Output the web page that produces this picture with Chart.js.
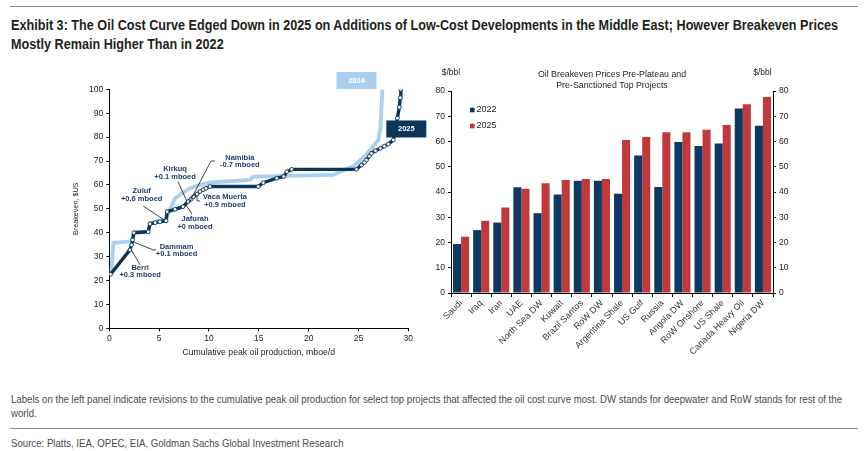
<!DOCTYPE html>
<html>
<head>
<meta charset="utf-8">
<title>Oil cost curve</title>
<script src="https://cdn.jsdelivr.net/npm/chart.js@4.4.0/dist/chart.umd.min.js"></script>
<style>
  body { margin: 0; background: #fff; width: 867px; height: 451px; position: relative; overflow: hidden; }
  .rule { position: absolute; height: 1px; background: #8a8a8a; }
  .txt { position: absolute; white-space: nowrap; transform-origin: 0 0; }
  .title { font: bold 14px "Liberation Sans Narrow", "Liberation Sans", Arial, sans-serif; line-height: 14px; color: #231f20; }
  .note { font: 10.5px "Liberation Sans Narrow", "Liberation Sans", Arial, sans-serif; line-height: 10.5px; color: #4a4a4a; }
  canvas { position: absolute; }
</style>
</head>
<body>
<div class="rule" style="left:10px;top:6px;width:848px;"></div>
<div class="txt title" id="t1" style="left:11px;top:18px;">Exhibit 3: The Oil Cost Curve Edged Down in 2025 on Additions of Low-Cost Developments in the Middle East; However Breakeven Prices</div>
<div class="txt title" id="t2" style="left:11px;top:36.5px;">Mostly Remain Higher Than in 2022</div>

<canvas id="curve" width="370" height="310" style="left:60px;top:60px;"></canvas>
<canvas id="bars" width="420" height="330" style="left:430px;top:60px;"></canvas>

<div class="txt note" id="n1" style="left:11px;top:394.4px;">Labels on the left panel indicate revisions to the cumulative peak oil production for select top projects that affected the oil cost curve most. DW stands for deepwater and RoW stands for rest of the</div>
<div class="txt note" id="n2" style="left:11px;top:407.8px;">world.</div>
<div class="rule" style="left:10px;top:428px;width:848px;"></div>
<div class="txt note" id="n3" style="left:11px;top:437.8px;">Source: Platts, IEA, OPEC, EIA, Goldman Sachs Global Investment Research</div>

<script>
// ---- left panel: cost curve (cumulative mboe/d vs breakeven $)
const curveX2024 = [0.2, 0.4, 2.25, 2.47, 3.9, 4.1, 5.7, 6.05, 6.6, 7.3, 8.1, 9.1, 10.1, 14.1, 14.45, 22.5, 22.8, 24.5, 25.8, 27.0, 27.2, 27.4];
const curveY2024 = [23.0, 35.8, 36.4, 40.0, 40.4, 44.0, 45.6, 49.5, 54.4, 56.5, 58.6, 60.0, 61.0, 62.1, 63.5, 64.2, 64.9, 67.8, 72.7, 78.8, 83.7, 100];

const curveX2025 = [0.13, 2.07, 2.24, 2.34, 2.47, 3.9, 4.08, 4.6, 5.08, 5.7, 5.8, 6.6, 7.4, 7.9, 8.2, 8.43, 8.8, 9.1, 9.4, 9.7, 10.1, 14.95, 15.45, 16.8, 17.5, 17.8, 18.3, 24.8, 25.3, 25.6, 25.8, 26.1, 26.3, 26.7, 27.2, 27.6, 28.0, 28.5, 28.9, 29.1, 29.2, 29.25];
const curveY2025 = [22.6, 32.8, 34.9, 37.0, 40.0, 40.4, 43.7, 44.2, 44.6, 45.0, 48.8, 49.8, 50.9, 53.0, 54.0, 55.0, 56.2, 57.2, 58.0, 58.6, 59.3, 59.3, 60.9, 62.8, 63.5, 65.5, 66.5, 66.5, 68.3, 69.4, 70.4, 72.0, 73.2, 74.3, 75.3, 76.2, 77.1, 78.8, 87.9, 92.5, 96.5, 100];

// project revision notes (anchor = centre of first text line, data units)
const noteNames     = ['Namibia', 'Kirkuq', 'Zuluf', 'Vaca Muerta', 'Jafurah', 'Dammam', 'Berri'];
const noteRevisions = ['-0.7 mboed', '+0.1 mboed', '+0.6 mboed', '+0.9 mboed', '+0 mboed', '+0.1 mboed', '+0.3 mboed'];
const noteX = [13.1, 6.6, 3.25, 11.6, 8.6, 6.75, 3.1];
const noteY = [71.4, 66.5, 57.4, 54.8, 45.6, 34.1, 25.3];
const noteLeaders = [
  [[10.6, 70.0], [10.2, 70.0], [8.0, 52.4]],
  [[6.9, 61.3], [7.8, 53.0]],
  [[3.4, 51.2], [5.5, 45.3]],
  [[8.8, 55.4], [8.8, 53.3], [9.1, 53.3]],
  [[7.7, 51.6], [8.3, 47.8]],
  [[2.4, 36.2], [4.4, 32.8], [4.7, 32.8]],
  [[2.2, 32.8], [3.1, 26.5]]
];
// series tags drawn as boxes
const tagText = ['2024', '2025'];
const tagX = [24.8, 29.8];
const tagY = [103.7, 83.4];

// ---- right panel: breakeven by project
const projects = ['Saudi', 'Iraq', 'Iran', 'UAE', 'North Sea DW', 'Kuwait', 'Brazil Santos', 'RoW DW', 'Argentina Shale', 'US Gulf', 'Russia', 'Angola DW', 'RoW Onshore', 'US Shale', 'Canada Heavy Oil', 'Nigeria DW'];
const breakeven2022 = [19.4, 24.9, 27.9, 41.9, 31.6, 39.0, 44.5, 44.5, 39.3, 54.5, 42.0, 59.8, 58.2, 59.2, 73.1, 66.2];
const breakeven2025 = [22.3, 28.6, 33.9, 41.3, 43.5, 44.8, 45.1, 45.1, 60.6, 61.8, 63.7, 63.7, 64.7, 66.5, 74.8, 77.6];

const NAVY = '#0b3559';
const LIGHT = '#a9d0ee';
const BAR_NAVY = '#0c3a63';
const BAR_RED = '#c1393b';
const FONT = '"Liberation Sans", Arial, sans-serif';

Chart.defaults.font.family = FONT;
Chart.defaults.animation = false;

function toPoints(xs, ys) {
  return xs.map((x, i) => ({ x: x, y: ys[i] }));
}

// fit text lines to the widths they take in the reference
function fitText(id, width, others) {
  const el = document.getElementById(id);
  const s = width / el.getBoundingClientRect().width;
  el.style.transform = 'scaleX(' + s + ')';
  (others || []).forEach(o => { document.getElementById(o).style.transform = 'scaleX(' + s + ')'; });
}
fitText('t1', 827, ['t2']);
fitText('n1', 831, ['n2', 'n3']);

const curveNotes = {
  id: 'curveNotes',
  afterDatasetsDraw(chart) {
    const ctx = chart.ctx, xs = chart.scales.x, ys = chart.scales.y;
    ctx.save();
    ctx.strokeStyle = '#111';
    ctx.lineWidth = 0.8;
    noteLeaders.forEach(pts => {
      ctx.beginPath();
      pts.forEach((p, i) => {
        const px = xs.getPixelForValue(p[0]), py = ys.getPixelForValue(p[1]);
        if (i === 0) ctx.moveTo(px, py); else ctx.lineTo(px, py);
      });
      ctx.stroke();
    });
    ctx.fillStyle = '#1d3f6b';
    ctx.font = 'bold 7.5px ' + FONT;
    ctx.textAlign = 'center';
    ctx.textBaseline = 'middle';
    noteNames.forEach((n, i) => {
      const px = xs.getPixelForValue(noteX[i]), py = ys.getPixelForValue(noteY[i]);
      ctx.fillText(n, px, py);
      ctx.fillText(noteRevisions[i], px, py + 7.6);
    });
    // series tags
    const fills = [LIGHT, NAVY];
    ctx.font = 'bold 7.5px ' + FONT;
    tagText.forEach((t, i) => {
      const px = xs.getPixelForValue(tagX[i]), py = ys.getPixelForValue(tagY[i]);
      ctx.fillStyle = fills[i];
      ctx.fillRect(px - 20, py - 8.5, 40, 17);
      ctx.fillStyle = '#fff';
      ctx.fillText(t, px, py);
    });
    ctx.restore();
  }
};

const axisCommon = {
  grid: { drawOnChartArea: false, drawTicks: true, tickLength: 3, color: '#000', lineWidth: 1 },
  border: { color: '#000', width: 1 }
};

new Chart(document.getElementById('curve'), {
  type: 'line',
  data: {
    datasets: [
      { label: '2025', data: toPoints(curveX2025, curveY2025), borderColor: NAVY, borderWidth: 3.4, tension: 0,
        pointRadius: 1.9, pointBackgroundColor: '#fff', pointBorderColor: NAVY, pointBorderWidth: 0.9 },
      { label: '2024', data: toPoints(curveX2024, curveY2024), borderColor: LIGHT, borderWidth: 3.8, tension: 0,
        pointRadius: 0 }
    ]
  },
  options: {
    responsive: false,
    layout: { padding: { top: 29.3, right: 21.7, left: 0, bottom: 12 } },
    plugins: { legend: { display: false }, tooltip: { enabled: false } },
    scales: {
      x: {
        type: 'linear', min: 0, max: 30,
        ticks: { stepSize: 5, color: '#222', font: { size: 8.5 }, padding: 2, maxRotation: 0 },
        title: { display: true, text: 'Cumulative peak oil production, mboe/d', color: '#222', font: { size: 8.7 }, padding: { top: 4, bottom: 0 } },
        afterFit: s => { s.height = 29.7; },
        ...axisCommon
      },
      y: {
        min: 0, max: 100,
        ticks: { stepSize: 10, color: '#222', font: { size: 8.5 }, padding: 3 },
        title: { display: true, text: 'Breakeven, $US', color: '#222', font: { size: 7.2 }, padding: { top: 12, bottom: 0 } },
        afterFit: s => { s.width = 49.3; },
        ...axisCommon
      }
    }
  },
  plugins: [curveNotes]
});

const barDecor = {
  id: 'barDecor',
  afterDraw(chart) {
    const ctx = chart.ctx, a = chart.chartArea;
    ctx.save();
    ctx.fillStyle = '#222';
    ctx.font = '8.8px ' + FONT;
    ctx.textBaseline = 'middle';
    ctx.textAlign = 'center';
    const cx = (a.left + a.right) / 2;
    ctx.fillText('Oil Breakeven Prices Pre-Plateau and', cx, 15);
    ctx.fillText('Pre-Sanctioned Top Projects', cx, 25.7);
    ctx.font = '8.5px ' + FONT;
    ctx.textAlign = 'left';
    ctx.fillText('$/bbl', 11.7, 12.3);
    ctx.textAlign = 'right';
    ctx.fillText('$/bbl', 341.7, 12.3);
    // legend inside the plot
    ctx.font = '9px ' + FONT;
    ctx.textAlign = 'left';
    chart.data.datasets.forEach((d, i) => {
      const y = 50 + i * 16;
      ctx.fillStyle = d.backgroundColor;
      ctx.fillRect(40, y - 2.3, 4.6, 4.6);
      ctx.fillStyle = '#222';
      ctx.fillText(d.label, 46.5, y);
    });
    ctx.restore();
  }
};

new Chart(document.getElementById('bars'), {
  type: 'bar',
  data: {
    labels: projects,
    datasets: [
      { label: '2022', data: breakeven2022, backgroundColor: BAR_NAVY, categoryPercentage: 0.8, barPercentage: 1.0 },
      { label: '2025', data: breakeven2025, backgroundColor: BAR_RED, categoryPercentage: 0.8, barPercentage: 1.0 }
    ]
  },
  options: {
    responsive: false,
    layout: { padding: { top: 31, right: 55, left: 0, bottom: 0 } },
    plugins: { legend: { display: false }, tooltip: { enabled: false } },
    scales: {
      x: {
        ticks: { minRotation: 45, maxRotation: 45, autoSkip: false, color: '#333', font: { size: 9 }, padding: 1 },
        grid: { drawOnChartArea: false, drawTicks: true, tickLength: 4, color: '#000', offset: true },
        border: { color: '#000', width: 1 },
        afterFit: s => { s.height = 97; }
      },
      y: {
        min: 0, max: 80,
        ticks: { stepSize: 10, color: '#222', font: { size: 8.5 }, padding: 3 },
        afterFit: s => { s.width = 21; },
        ...axisCommon
      },
      y2: {
        position: 'right', min: 0, max: 80,
        ticks: { stepSize: 10, color: '#222', font: { size: 8.5 }, padding: 3 },
        afterFit: s => { s.width = 22; },
        ...axisCommon
      }
    }
  },
  plugins: [barDecor]
});
</script>
</body>
</html>
